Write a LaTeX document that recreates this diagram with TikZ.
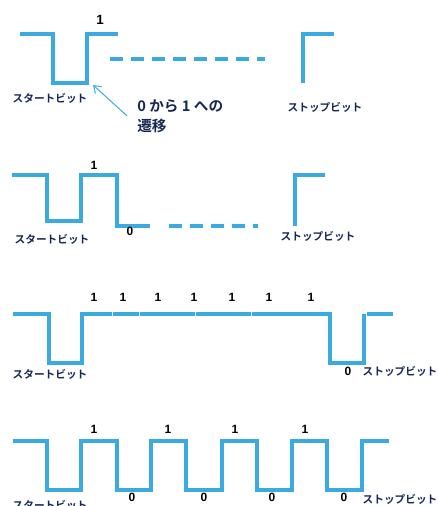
\documentclass[tikz,border=0pt]{standalone}
\usepackage{fontspec}
\setmainfont{Liberation Sans}
\newfontfamily\jp{Noto Sans CJK JP}[BoldFont={Noto Sans CJK JP Bold}]
\usetikzlibrary{arrows.meta}
\definecolor{wave}{RGB}{58,170,224}
\definecolor{navy}{RGB}{22,40,84}
\begin{document}
\begin{tikzpicture}[x=0.75pt, y=-0.75pt, >={Straight Barb[length=5pt,width=7pt]},
  wire/.style={draw=wave, line width=2.4pt},
  gapline/.style={wire, dash pattern=on 9.75pt off 6pt},
  bit/.style={font=\bfseries\fontsize{9}{10}\selectfont, inner sep=0pt},
  bitname/.style={font=\jp\bfseries\fontsize{8}{9}\selectfont, text=navy, inner sep=0pt}]
\useasboundingbox (0,0) rectangle (437,506);
% first frame: 1 then idle
\draw[wire] (20,34) -- (53,34) -- (53,83) -- (87,83) -- (87,34) -- (118,34);
\draw[gapline] (110,59) -- (265,59);
\draw[wire] (303,83) -- (303,34) -- (334,34);
\node[bit, font=\bfseries\fontsize{10}{11}\selectfont] (one1) at (100,20) {1};
\node[bitname] (start1) at (50,98) {スタートビット};
\node[bitname] (stop1) at (325,107) {ストップビット};
\coordinate (rise) at (93,85);
\node[font=\jp\bfseries\fontsize{11}{15}\selectfont, text=navy, align=left, inner sep=0pt, anchor=north west] (trans) at (137,99) {0 から 1 への\\遷移};
\draw[->, wave, line width=0.75pt] ([xshift=-7.5pt]trans.west) -- (rise);
% second frame: 1 0
\draw[wire] (12,175) -- (47,175) -- (47,221) -- (81,221) -- (81,175) -- (117,175) -- (117,226) -- (150,226);
\draw[gapline] (169,226) -- (258,226);
\draw[wire] (295,226) -- (295,175) -- (325,175);
\node[bit] (one2) at (94,165) {1};
\node[bit] (zero2) at (130,231) {0};
\node[bitname] (start2) at (52,239) {スタートビット};
\node[bitname] (stop2) at (318,236) {ストップビット};
% third frame: all ones
\draw[wire] (13,314) -- (49,314) -- (49,363) -- (82,363) -- (82,314) -- (111.5,314);
\foreach \a/\b in {112.5/138.5, 139.5/194.5, 195.5/250.5}
  \draw[wire] (\a,314) -- (\b,314);
\draw[wire] (251.5,314) -- (330,314) -- (330,363) -- (364,363) -- (364,314);
\draw[wire] (367,314) -- (393,314);
\foreach \x [count=\i] in {94,123,158,194,232,269,311}
  \node[bit] (one3\i) at (\x,297) {1};
\node[bit] (zero3) at (348,371) {0};
\node[bitname] (start3) at (50,374) {スタートビット};
\node[bitname] (stop3) at (400,371) {ストップビット};
% fourth frame: 1 0 1 0 ...
\draw[wire] (13,441) -- (47,441) -- (47,490) -- (81,490) -- (81,441) -- (117,441) -- (117,490) -- (151,490) -- (151,441) -- (186,441) -- (186,490) -- (222,490) -- (222,441) -- (257,441) -- (257,490) -- (292,490) -- (292,441) -- (327,441) -- (327,490) -- (362,490) -- (362,441) -- (389,441);
\foreach \x [count=\i] in {94,168,235,305}
  \node[bit] (one4\i) at (\x,429) {1};
\foreach \x [count=\i] in {132,204,272,344}
  \node[bit] (zero4\i) at (\x,497) {0};
\node[bitname] (start4) at (50,505) {スタートビット};
\node[bitname] (stop4) at (400,499) {ストップビット};
\end{tikzpicture}
\end{document}
